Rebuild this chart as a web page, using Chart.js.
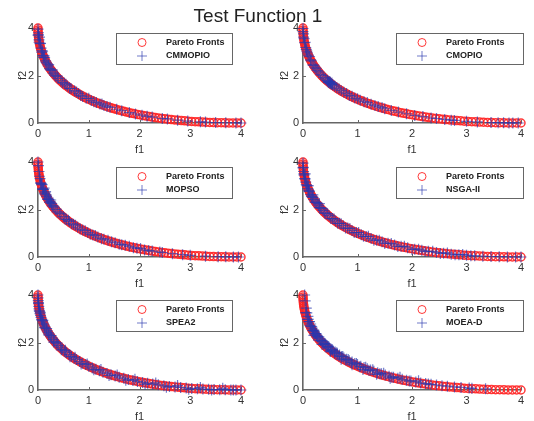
<!DOCTYPE html>
<html><head><meta charset="utf-8">
<script src="https://cdn.jsdelivr.net/npm/chart.js@4.4.0/dist/chart.umd.min.js"></script>
<style>
html,body{margin:0;padding:0;background:#fff;}
body{width:534px;height:421px;position:relative;overflow:hidden;}
canvas{position:absolute;}
#title{position:absolute;left:0;top:5px;width:516px;text-align:center;font:19px 'Liberation Sans',Arial,sans-serif;line-height:22px;color:#222;z-index:5;}
</style></head><body>
<div id="title">Test Function 1</div>
<canvas id="c0" width="267" height="157" style="left:0px;top:0px"></canvas>
<canvas id="c1" width="270" height="157" style="left:264px;top:0px"></canvas>
<canvas id="c2" width="267" height="157" style="left:0px;top:134px"></canvas>
<canvas id="c3" width="270" height="157" style="left:264px;top:134px"></canvas>
<canvas id="c4" width="267" height="157" style="left:0px;top:267px"></canvas>
<canvas id="c5" width="270" height="157" style="left:264px;top:267px"></canvas>
<script>
const X_TICKS=[0,1,2,3,4];
const Y_TICKS=[0,2,4];
const PF_LABEL='Pareto Fronts';
const PF_F1=[0,0.0004,0.0016,0.0036,0.0064,0.01,0.0144,0.0196,0.0256,0.0324,0.04,0.0484,0.0576,0.0676,0.0784,0.09,0.1024,0.1156,0.1296,0.1444,0.16,0.1764,0.1936,0.2116,0.2304,0.25,0.2704,0.2916,0.3136,0.3364,0.36,0.3844,0.4096,0.4356,0.4624,0.49,0.5184,0.5476,0.5776,0.6084,0.64,0.6724,0.7056,0.7396,0.7744,0.81,0.8464,0.8836,0.9216,0.9604,1.0,1.0404,1.0816,1.1236,1.1664,1.21,1.2544,1.2996,1.3456,1.3924,1.44,1.4884,1.5376,1.5876,1.6384,1.69,1.7424,1.7956,1.8496,1.9044,1.96,2.0164,2.0736,2.1316,2.1904,2.25,2.3104,2.3716,2.4336,2.4964,2.56,2.6244,2.6896,2.7556,2.8224,2.89,2.9584,3.0276,3.0976,3.1684,3.24,3.3124,3.3856,3.4596,3.5344,3.61,3.6864,3.7636,3.8416,3.9204,4.0];
const PF_F2=[4.0,3.9204,3.8416,3.7636,3.6864,3.61,3.5344,3.4596,3.3856,3.3124,3.24,3.1684,3.0976,3.0276,2.9584,2.89,2.8224,2.7556,2.6896,2.6244,2.56,2.4964,2.4336,2.3716,2.3104,2.25,2.1904,2.1316,2.0736,2.0164,1.96,1.9044,1.8496,1.7956,1.7424,1.69,1.6384,1.5876,1.5376,1.4884,1.44,1.3924,1.3456,1.2996,1.2544,1.21,1.1664,1.1236,1.0816,1.0404,1.0,0.9604,0.9216,0.8836,0.8464,0.81,0.7744,0.7396,0.7056,0.6724,0.64,0.6084,0.5776,0.5476,0.5184,0.49,0.4624,0.4356,0.4096,0.3844,0.36,0.3364,0.3136,0.2916,0.2704,0.25,0.2304,0.2116,0.1936,0.1764,0.16,0.1444,0.1296,0.1156,0.1024,0.09,0.0784,0.0676,0.0576,0.0484,0.04,0.0324,0.0256,0.0196,0.0144,0.01,0.0064,0.0036,0.0016,0.0004,0];

const CMMOPIO_F1=[0.00,0.01,0.00,0.03,0.02,0.05,0.06,0.09,0.10,0.13,0.15,0.18,0.20,0.23,0.26,0.30,0.33,0.40,0.45,0.52,0.58,0.65,0.72,0.80,0.88,0.95,1.05,1.15,1.22,1.30,1.42,1.55,1.65,1.80,1.92,2.05,2.15,2.25,2.45,2.55,2.75,2.95,3.20,3.30,3.50,3.70,3.90,4.00,
  0.01,0.02,0.04,0.07,0.08,0.11,0.12,0.16,0.21,0.24,0.28,0.35,0.38,0.48,0.55,0.62,0.76,0.84,1.00,1.10,1.26,1.36];
const CMMOPIO_F2=[3.95,3.80,3.70,3.62,3.50,3.35,3.15,3.00,2.85,2.75,2.62,2.50,2.40,2.30,2.22,2.10,2.02,1.88,1.78,1.68,1.56,1.45,1.36,1.24,1.12,1.04,0.95,0.86,0.80,0.74,0.66,0.58,0.52,0.44,0.38,0.33,0.28,0.25,0.19,0.17,0.12,0.08,0.05,0.04,0.02,0.01,0.005,0.0,
  3.71,3.40,3.34,2.98,3.05,2.76,2.83,2.55,2.46,2.26,2.24,1.97,1.97,1.70,1.63,1.46,1.31,1.16,1.04,0.89,0.80,0.69];

const CMOPIO_F1=[0.00,0.01,0.02,0.04,0.06,0.08,0.12,0.15,0.18,0.22,0.26,0.32,0.38,0.44,0.46,0.48,0.50,0.52,0.54,0.49,0.58,0.66,0.75,0.85,0.95,1.05,1.12,1.25,1.38,1.50,1.62,1.75,1.90,2.05,2.20,2.35,2.45,2.60,2.72,2.78,3.00,3.20,3.45,3.58,3.68,3.78,3.85,3.95,0.47,0.51,0.53,0.50,
  0.00,0.01,0.03,0.05,0.07,0.10,0.14,0.20,0.24,0.29,0.35,0.41,0.45,0.55,0.62,0.70,0.80,0.90,1.00,1.18,1.32,1.45];
const CMOPIO_F2=[3.98,3.75,3.55,3.40,3.10,2.95,2.80,2.62,2.45,2.35,2.22,2.05,1.92,1.80,1.74,1.70,1.68,1.64,1.62,1.75,1.55,1.44,1.30,1.16,1.05,0.96,0.90,0.79,0.69,0.60,0.53,0.46,0.39,0.32,0.27,0.21,0.19,0.15,0.12,0.11,0.07,0.045,0.02,0.012,0.008,0.004,0.002,0.0,1.72,1.66,1.68,1.72,
  3.85,3.62,3.38,3.18,3.03,2.86,2.66,2.43,2.30,2.15,2.00,1.86,1.78,1.60,1.48,1.37,1.24,1.13,1.02,0.86,0.74,0.65];

const MOPSO_F1=[0.00,0.01,0.02,0.04,0.06,0.10,0.14,0.17,0.20,0.22,0.24,0.27,0.30,0.35,0.42,0.50,0.56,0.62,0.70,0.78,0.88,0.98,1.08,1.18,1.30,1.45,1.52,1.65,1.80,1.95,2.10,2.25,2.40,2.45,2.65,2.85,3.00,3.30,3.55,3.70,3.85,3.95,0.15,0.25,0.08,0.12,
  0.03,0.05,0.07,0.09,0.11,0.13,0.16,0.19,0.21,0.23,0.26,0.28,0.32,0.38,0.45,0.53,0.60,0.66,0.74,0.83,0.93,1.03,1.13,1.25,1.38,1.60,1.72,1.88,2.02,2.18];
const MOPSO_F2=[4.00,3.85,3.60,3.30,3.10,2.85,2.70,2.55,2.48,2.40,2.33,2.25,2.15,2.00,1.85,1.70,1.58,1.50,1.38,1.26,1.14,1.03,0.93,0.84,0.75,0.64,0.60,0.52,0.45,0.37,0.30,0.25,0.21,0.19,0.14,0.10,0.07,0.035,0.015,0.008,0.003,0.0,2.75,2.40,3.05,2.90,
  3.40,3.12,3.07,2.87,2.84,2.66,2.62,2.43,2.43,2.30,2.27,2.15,2.10,1.90,1.82,1.60,1.55,1.40,1.34,1.18,1.11,0.96,0.91,0.77,0.71,0.54,0.50,0.39,0.36,0.27];

const NSGA2_F1=[0.00,0.00,0.01,0.02,0.03,0.05,0.07,0.09,0.11,0.14,0.17,0.20,0.24,0.28,0.32,0.37,0.42,0.48,0.54,0.60,0.67,0.74,0.82,0.90,0.98,1.07,1.16,1.25,1.35,1.45,1.56,1.68,1.80,1.92,2.05,2.18,2.30,2.45,2.58,2.72,2.86,3.00,3.15,3.30,3.45,3.60,3.75,3.90,4.00,0.04,0.10,0.18,0.30,
  0.005,0.015,0.04,0.06,0.08,0.10,0.12,0.155,0.185,0.22,0.26,0.30,0.345,0.395,0.45,0.51,0.57,0.635,0.70,0.78,0.86,0.94,1.02,1.11,1.20,1.30,1.40,1.50,1.62,1.74,1.86,2.00,2.12,2.24,2.38,2.52,2.65,2.79,2.93,3.08];
const NSGA2_F2=[3.95,3.75,3.60,3.45,3.30,3.15,3.00,2.88,2.76,2.63,2.52,2.42,2.30,2.18,2.07,1.96,1.85,1.74,1.62,1.52,1.42,1.32,1.22,1.12,1.03,0.94,0.86,0.78,0.71,0.64,0.58,0.51,0.45,0.39,0.33,0.28,0.24,0.19,0.16,0.12,0.10,0.075,0.05,0.035,0.022,0.012,0.005,0.001,0.0,3.50,3.00,2.62,2.25,
  3.77,3.50,3.29,3.05,3.00,2.81,2.78,2.55,2.51,2.31,2.27,2.08,2.05,1.85,1.82,1.62,1.60,1.42,1.40,1.22,1.20,1.03,1.03,0.87,0.87,0.71,0.71,0.57,0.57,0.44,0.45,0.32,0.33,0.23,0.24,0.15,0.17,0.09,0.11,0.05];

const SPEA2_F1=[0.00,0.00,0.005,0.01,0.015,0.02,0.03,0.04,0.05,0.06,0.075,0.09,0.105,0.12,0.14,0.16,0.18,0.20,0.22,0.245,0.27,0.30,0.33,0.36,0.40,0.44,0.48,0.52,0.56,0.61,0.66,0.71,0.76,0.82,0.88,0.94,1.00,1.07,1.14,1.21,1.28,1.36,1.44,1.52,1.60,1.69,1.78,1.87,1.96,2.06,2.16,2.26,2.37,2.48,2.59,2.70,2.81,2.92,3.03,3.14,3.25,3.36,3.47,3.58,3.69,3.80,3.90,4.00,
  0.01,0.025,0.045,0.07,0.095,0.13,0.17,0.21,0.26,0.31,0.38,0.46,0.54,0.63,0.73,0.85,0.97,1.10,1.24,1.40,1.56,1.73,1.91,2.11,2.32,2.53,2.75,2.97,3.20,3.42,3.64,3.85];
const SPEA2_F2=[4.00,3.88,3.76,3.64,3.52,3.42,3.32,3.22,3.14,3.06,2.98,2.90,2.82,2.74,2.66,2.57,2.49,2.42,2.36,2.28,2.20,2.12,2.04,1.97,1.88,1.80,1.72,1.64,1.57,1.49,1.42,1.34,1.28,1.20,1.13,1.07,1.00,0.93,0.87,0.81,0.75,0.70,0.64,0.59,0.54,0.49,0.44,0.40,0.36,0.32,0.28,0.25,0.22,0.18,0.15,0.13,0.11,0.085,0.068,0.052,0.040,0.028,0.019,0.012,0.006,0.003,0.001,0.0,
  3.68,3.33,3.27,2.95,2.93,2.63,2.59,2.32,2.29,2.02,1.98,1.69,1.67,1.40,1.38,1.10,1.10,0.85,0.86,0.61,0.63,0.41,0.45,0.24,0.30,0.12,0.19,0.03,0.11,0.0,0.07,0.0];

const MOEAD_F1=[0.03,0.04,0.06,0.07,0.09,0.10,0.12,0.14,0.15,0.17,0.19,0.21,0.23,0.25,0.27,0.30,0.33,0.36,0.39,0.42,0.45,0.48,0.52,0.55,0.59,0.63,0.67,0.71,0.75,0.80,0.85,0.90,0.95,1.00,1.06,1.12,1.18,1.24,1.30,1.37,1.44,1.51,1.58,1.66,1.74,1.82,1.90,1.98,2.07,2.16,2.25,2.35,2.45,2.55,2.65,2.78,2.90,3.05,3.10,3.35,0.20,0.35,0.50,0.70,0.90,1.10,1.35,1.60,
  0.05,0.08,0.11,0.13,0.16,0.18,0.20,0.22,0.24,0.26,0.29,0.32,0.35,0.38,0.41,0.44,0.47,0.51,0.54,0.58,0.62,0.66,0.73,0.78,0.83,0.88,0.98,1.04,1.15,1.21,1.28,1.41,1.48,1.63,1.78,1.95,2.12,2.30];
const MOEAD_F2=[4.00,3.75,3.45,3.25,3.10,2.98,2.88,2.78,2.68,2.60,2.52,2.45,2.38,2.32,2.25,2.18,2.10,2.03,1.96,1.90,1.84,1.78,1.72,1.65,1.60,1.53,1.47,1.41,1.35,1.30,1.23,1.18,1.12,1.07,1.00,0.95,0.89,0.84,0.79,0.73,0.68,0.63,0.58,0.54,0.49,0.45,0.41,0.38,0.34,0.30,0.27,0.24,0.21,0.18,0.16,0.13,0.11,0.08,0.07,0.05,2.30,1.92,1.62,1.30,1.06,0.86,0.66,0.50,
  3.26,2.97,2.88,2.71,2.66,2.50,2.51,2.36,2.38,2.24,2.24,2.08,2.08,1.93,1.95,1.81,1.83,1.67,1.70,1.55,1.57,1.43,1.41,1.27,1.28,1.15,1.12,0.98,0.96,0.83,0.85,0.68,0.71,0.54,0.54,0.38,0.39,0.25];

const ALGO_NAMES=['CMMOPIO','CMOPIO','MOPSO','NSGA-II','SPEA2','MOEA-D'];
const ALGO_F1=[CMMOPIO_F1,CMOPIO_F1,MOPSO_F1,NSGA2_F1,SPEA2_F1,MOEAD_F1];
const ALGO_F2=[CMMOPIO_F2,CMOPIO_F2,MOPSO_F2,NSGA2_F2,SPEA2_F2,MOEAD_F2];

const RED='rgba(255,35,35,0.9)';
const BLUE='rgba(40,55,175,0.66)';
const AXIS='#666';
const FONT="'Liberation Sans', Arial, sans-serif";
Chart.defaults.font.family=FONT;
Chart.defaults.color='#333';

const COLS=[
  {yw:38, pr:26, ytp:16.5, lx:116, lw:116},
  {yw:39, pr:13, ytp:14.5, lx:132, lw:127}
];

const decor={
  id:'decor',
  beforeDatasetsDraw(chart){
    const ctx=chart.ctx, xs=chart.scales.x, ys=chart.scales.y, a=chart.chartArea;
    ctx.save(); ctx.strokeStyle=AXIS; ctx.lineWidth=1;
    X_TICKS.slice(1).forEach(v=>{const p=Math.round(xs.getPixelForValue(v))+0.5;ctx.beginPath();ctx.moveTo(p,a.bottom);ctx.lineTo(p,a.bottom-3);ctx.stroke();});
    Y_TICKS.slice(1).forEach(v=>{const p=Math.round(ys.getPixelForValue(v))+0.5;ctx.beginPath();ctx.moveTo(a.left,p);ctx.lineTo(a.left+3,p);ctx.stroke();});
    ctx.restore();
  },
  afterDraw(chart,args,o){
    const ctx=chart.ctx;
    const x=o.lx,y=33,w=o.lw,h=31;
    ctx.save();
    ctx.fillStyle='#fff';ctx.fillRect(x,y,w,h);
    ctx.strokeStyle='#666';ctx.lineWidth=1;ctx.strokeRect(x+0.5,y+0.5,w,h);
    const ds=chart.data.datasets;
    const mx=x+26;
    let cy=y+9.5;
    ctx.strokeStyle=ds[0].pointBorderColor;ctx.lineWidth=1;
    ctx.beginPath();ctx.arc(mx,cy,4,0,Math.PI*2);ctx.stroke();
    ctx.font="bold 9px "+FONT;ctx.fillStyle='#222';ctx.textBaseline='middle';ctx.textAlign='left';
    ctx.fillText(ds[0].label,x+50,cy);
    cy=y+23;
    ctx.strokeStyle=ds[1].pointBorderColor;
    ctx.beginPath();ctx.moveTo(mx-5,cy);ctx.lineTo(mx+5,cy);ctx.moveTo(mx,cy-5);ctx.lineTo(mx,cy+5);ctx.stroke();
    ctx.fillText(ds[1].label,x+50,cy);
    ctx.restore();
  }
};

ALGO_NAMES.forEach((name,i)=>{
  const c=COLS[i%2];
  const f1=ALGO_F1[i], f2=ALGO_F2[i];
  new Chart(document.getElementById('c'+i),{
    type:'scatter',
    data:{datasets:[
      {label:PF_LABEL,data:PF_F1.map((x,k)=>({x:x,y:PF_F2[k]})),pointStyle:'circle',pointRadius:4,pointBorderColor:RED,pointBackgroundColor:'rgba(0,0,0,0)',pointBorderWidth:1.5,order:1,clip:false},
      {label:name,data:f1.map((x,k)=>({x:x,y:f2[k]})),pointStyle:'cross',pointRadius:5.5,pointBorderColor:BLUE,pointBackgroundColor:BLUE,pointBorderWidth:1.2,order:0,clip:false}
    ]},
    options:{
      responsive:false,animation:false,devicePixelRatio:1,
      events:[],
      layout:{padding:{left:0,right:c.pr,top:28,bottom:0}},
      plugins:{legend:{display:false},tooltip:{enabled:false},decor:{lx:c.lx,lw:c.lw}},
      scales:{
        x:{type:'linear',min:0,max:4,
          afterBuildTicks:s=>{s.ticks=X_TICKS.map(v=>({value:v}));},
          afterFit:s=>{s.height=34;},
          grid:{display:false,drawTicks:false},border:{display:true,color:AXIS,width:1.6},
          ticks:{padding:4,color:'#333',font:{size:11}},
          title:{display:true,text:'f1',color:'#333',font:{size:11},padding:{top:0,bottom:0}}},
        y:{type:'linear',min:0,max:4,
          afterBuildTicks:s=>{s.ticks=Y_TICKS.map(v=>({value:v}));},
          afterFit:s=>{s.width=c.yw;},
          grid:{display:false,drawTicks:false},border:{display:true,color:AXIS,width:1.6},
          ticks:{padding:4,color:'#333',font:{size:11}},
          title:{display:true,text:'f2',color:'#333',font:{size:11},padding:{top:c.ytp,bottom:0}}}
      }
    },
    plugins:[decor]
  });
});
</script>
</body></html>
